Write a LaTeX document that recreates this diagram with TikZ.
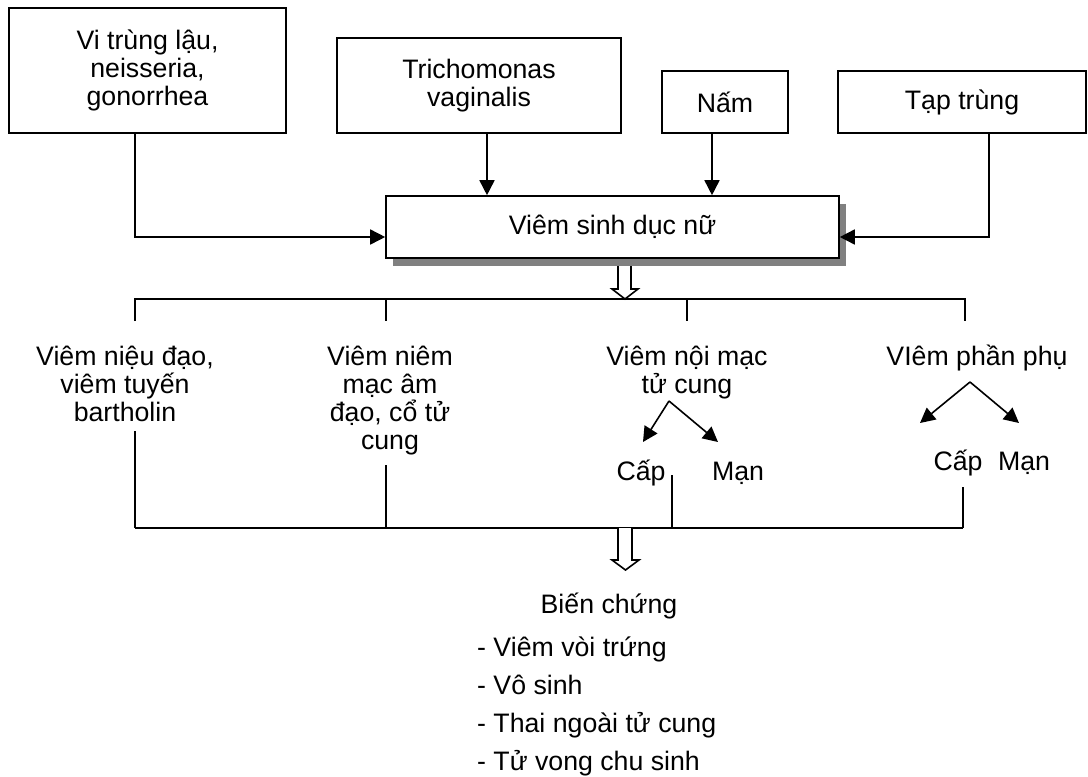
\documentclass[tikz,border=0pt]{standalone}
\usepackage{fontspec}
\setmainfont{Liberation Sans}
\usetikzlibrary{arrows.meta,shadows}
\definecolor{shadowgray}{RGB}{128,128,128}
\begin{document}
\begin{tikzpicture}[x=1pt,y=-1pt,
  every node/.style={font=\fontsize{26.7}{28.3}\selectfont, inner sep=0pt},
  box/.style={draw, line width=1.6pt, align=center},
  conn/.style={line width=1.6pt},
  arr/.style={conn, -{Triangle[length=15pt,width=15pt]}},
  lbl/.style={align=center, anchor=base},
  hollow/.style={draw, line width=1.6pt, fill=white, line join=miter}
]
\useasboundingbox (0,0) rectangle (1088,777);

% source boxes
\node[box, minimum width=277pt, minimum height=125pt] (gon) at (147.5,70.5) {Vi trùng lậu,\\neisseria,\\gonorrhea};
\node[box, minimum width=284pt, minimum height=95pt] (tri) at (479,85.5) {Trichomonas\\vaginalis};
\node[box, minimum width=126pt, minimum height=62pt] (nam) at (725,102) {Nấm};
\node[box, minimum width=248pt, minimum height=62pt] (tap) at (962,102) {Tạp trùng};

% central box
\node[box, fill=white, minimum width=453pt, minimum height=62pt,
  drop shadow={shadow xshift=7pt, shadow yshift=-8pt, fill=shadowgray, opacity=1}] (vsd) at (612.5,227) {Viêm sinh dục nữ};

% connectors into central box
\coordinate (j1) at (135,237);
\coordinate (j2) at (989,237);
\draw[arr] (j1 |- gon.south) |- (vsd.west |- j1);
\draw[arr] ([xshift=8pt]tri.south) -- ([xshift=8pt]tri.south |- vsd.north);
\draw[arr] ([xshift=-13pt]nam.south) -- ([xshift=-13pt]nam.south |- vsd.north);
\draw[arr] (j2 |- tap.south) |- (vsd.east |- j2);

% top bus
\coordinate (t1) at (135,299);
\coordinate (t2) at (386,299);
\coordinate (t3) at (687,299);
\coordinate (t4) at (965,299);
\draw[conn] ([yshift=-22pt]t1) -- (t1) -- (t4) -- ([yshift=-22pt]t4);
\draw[conn] (t2) -- ([yshift=-22pt]t2);
\draw[conn] (t3) -- ([yshift=-22pt]t3);

% hollow arrow 1
\draw[hollow] (618,266) -- (618,289) -- (612,289) -- (625,299) -- (638,289) -- (631,289) -- (631,266);

% labels (anchor base = last line baseline)
\node[lbl] (l1) at (125,421.6) {Viêm niệu đạo,\\viêm tuyến\\bartholin};
\node[lbl] (l2) at (390,449.9) {Viêm niêm\\mạc âm\\đạo, cổ tử\\cung};
\node[lbl] (l3) at (687,393.3) {Viêm nội mạc\\tử cung};
\node[lbl] (l4) at (977,365) {VIêm phần phụ};

% sub branches
\node[anchor=base] (c3) at (641,480) {Cấp};
\node[anchor=base] (m3) at (738,480) {Mạn};
\node[anchor=base] (c4) at (958,470) {Cấp};
\node[anchor=base] (m4) at (1024,470) {Mạn};
\coordinate (a3) at (669,401);
\coordinate (a4) at (970,382);
\coordinate (tc3) at (643,442);
\coordinate (tm3) at (718,442);
\coordinate (tc4) at (920,423);
\coordinate (tm4) at (1019,423);
\draw[arr] (a3) -- (tc3);
\draw[arr] (a3) -- (tm3);
\draw[arr] (a4) -- (tc4);
\draw[arr] (a4) -- (tm4);

% bottom bus
\coordinate (b1) at (135,528);
\coordinate (b2) at (386,528);
\coordinate (b3) at (672,528);
\coordinate (b4) at (963,528);
\draw[conn] (b1) -- (b4);
\draw[conn] (b1 |- 0,431) -- (b1);
\draw[conn] (b2 |- 0,465) -- (b2);
\draw[conn] (b3 |- 0,475) -- (b3);
\draw[conn] (b4 |- 0,487) -- (b4);

% hollow arrow 2
\draw[hollow] (618,528) -- (618,560) -- (612,560) -- (625.5,570) -- (639,560) -- (632,560) -- (632,528);

% complications
\node[anchor=base] (bc) at (609,613) {Biến chứng};
\node[anchor=base west, align=left, font=\fontsize{26.7}{38.2}\selectfont] (list) at (477,770.6) {- Viêm vòi trứng\\- Vô sinh\\- Thai ngoài tử cung\\- Tử vong chu sinh};
\end{tikzpicture}
\end{document}
